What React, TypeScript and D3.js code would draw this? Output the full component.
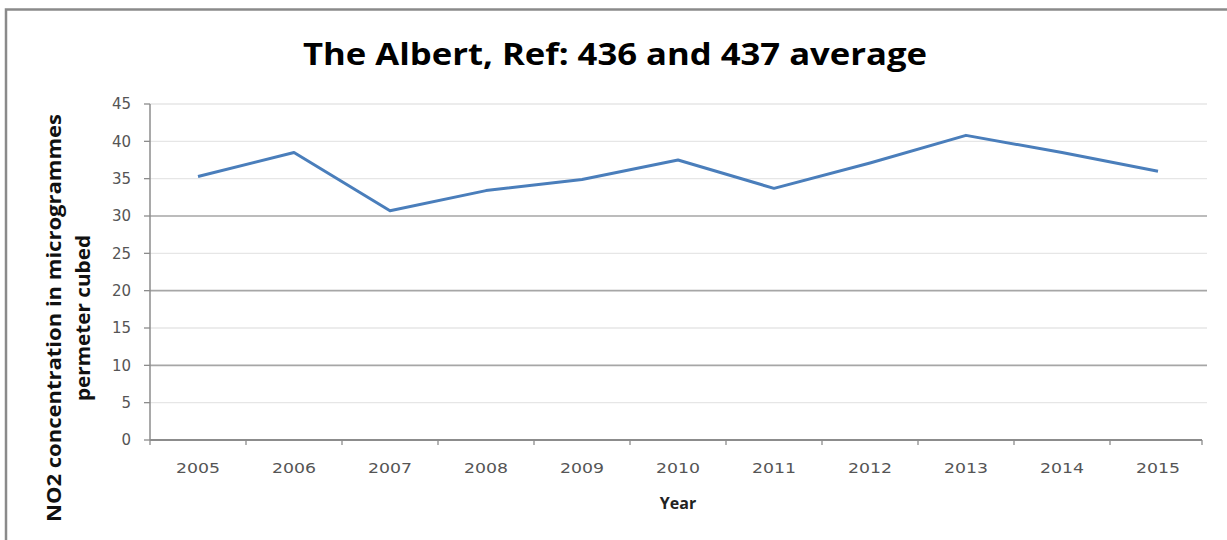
import React from "react";
import * as d3 from "d3";

const years = ["2005", "2006", "2007", "2008", "2009", "2010", "2011", "2012", "2013", "2014", "2015"];
const no2 = [35.3, 38.5, 30.7, 33.4, 34.9, 37.5, 33.7, 37.1, 40.8, 38.5, 36.0];
const yTicks = [0, 5, 10, 15, 20, 25, 30, 35, 40, 45];
const darkLines = [10, 20, 30];

const W = 1227;
const H = 540;
const left = 150;
const right = 1207;
const top = 104;
const bottom = 440;

const App = () => {
  const x = d3.scaleBand().domain(years).range([left, right - 1]);
  const y = d3.scaleLinear().domain([0, 45]).range([bottom, top]);

  const line = d3
    .line<number>()
    .x((d, i) => x(years[i]) + x.bandwidth() / 2)
    .y((d) => y(d));

  const tickFont = "'DejaVu Sans', sans-serif";

  return (
    <svg
      width={W}
      height={H}
      style={{ position: "absolute", left: 0, top: 0, background: "#fff" }}
    >
      {/* outer frame, cropped on the right and bottom */}
      <path d={`M6,${H} L6,9.5 L${W},9.5`} fill="none" stroke="#8a8a8a" strokeWidth={2.5} />

      <text
        x={615}
        y={65}
        textAnchor="middle"
        fontFamily="'Open Sans', sans-serif"
        fontWeight="bold"
        fontSize={31}
        textLength={624}
        lengthAdjust="spacingAndGlyphs"
        fill="#000"
      >
        The Albert, Ref: 436 and 437 average
      </text>

      {/* gridlines */}
      {yTicks
        .filter((t) => t > 0)
        .map((t) => (
          <line
            key={t}
            x1={left}
            x2={right}
            y1={y(t)}
            y2={y(t)}
            stroke={darkLines.includes(t) ? "#a6a6a6" : "#e6e6e6"}
            strokeWidth={darkLines.includes(t) ? 1.6 : 1.4}
          />
        ))}

      {/* y axis */}
      <line x1={left} x2={left} y1={top} y2={bottom} stroke="#8c8c8c" strokeWidth={1.5} />
      {yTicks.map((t) => (
        <g key={t}>
          <line x1={left - 6} x2={left} y1={y(t)} y2={y(t)} stroke="#8c8c8c" strokeWidth={1.3} />
          <text
            x={131}
            y={y(t)}
            dy="0.36em"
            textAnchor="end"
            fontFamily={tickFont}
            fontSize={15}
            fill="#555"
          >
            {t}
          </text>
        </g>
      ))}

      {/* x axis */}
      <line x1={left} x2={right - 5} y1={bottom} y2={bottom} stroke="#8c8c8c" strokeWidth={1.8} />
      {years.map((yr) => (
        <line
          key={"t" + yr}
          x1={x(yr)}
          x2={x(yr)}
          y1={bottom}
          y2={bottom + 5}
          stroke="#8c8c8c"
          strokeWidth={1.3}
        />
      ))}
      <line x1={right - 5} x2={right - 5} y1={bottom} y2={bottom + 5} stroke="#8c8c8c" strokeWidth={1.3} />
      {years.map((yr) => (
        <text
          key={"l" + yr}
          x={x(yr) + x.bandwidth() / 2}
          y={473}
          textAnchor="middle"
          fontFamily={tickFont}
          fontSize={14}
          textLength={44}
          lengthAdjust="spacingAndGlyphs"
          fill="#555"
        >
          {yr}
        </text>
      ))}

      <text
        x={678}
        y={509}
        textAnchor="middle"
        fontFamily="'Open Sans', sans-serif"
        fontWeight="bold"
        fontSize={16}
        fill="#222"
      >
        Year
      </text>

      <g fontFamily="'Open Sans', sans-serif" fontWeight="bold" fontSize={20} fill="#111">
        <text
          transform="translate(61,318) rotate(-90)"
          textAnchor="middle"
          textLength={408}
          lengthAdjust="spacingAndGlyphs"
        >
          NO2 concentration  in microgrammes
        </text>
        <text
          transform="translate(90,318) rotate(-90)"
          textAnchor="middle"
          textLength={166}
          lengthAdjust="spacingAndGlyphs"
        >
          permeter cubed
        </text>
      </g>

      <path
        d={line(no2)}
        fill="none"
        stroke="#4a7ebb"
        strokeWidth={3}
        strokeLinejoin="round"
      />
    </svg>
  );
};

export default App;
